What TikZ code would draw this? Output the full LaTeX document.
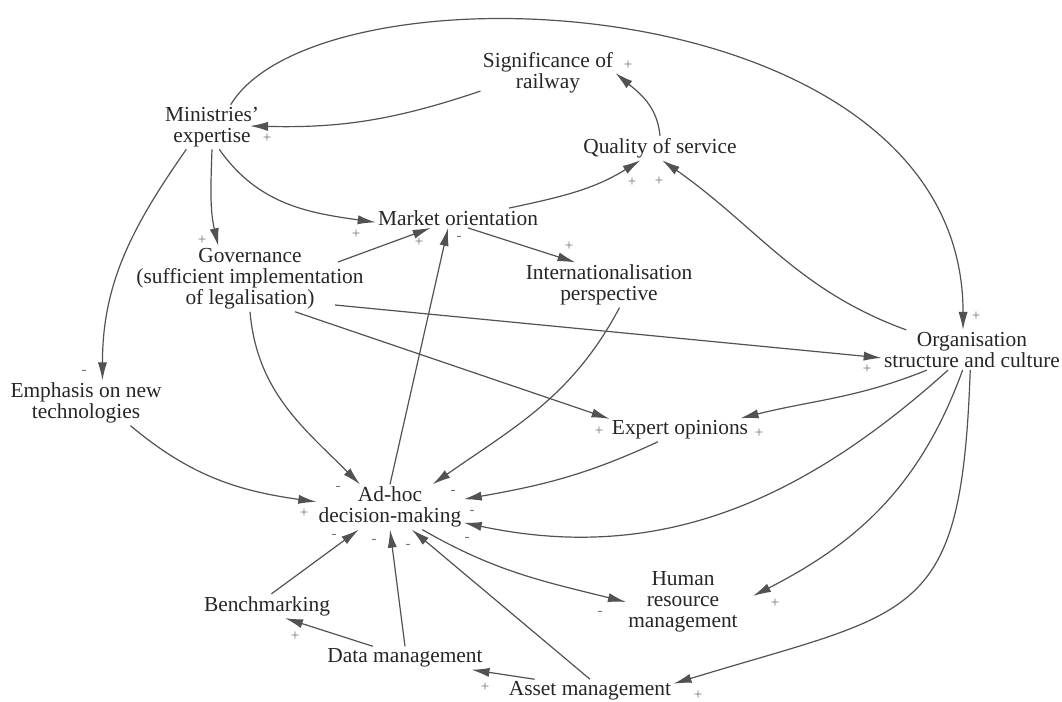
\documentclass[tikz,border=0pt]{standalone}
\usepackage{fontspec}
\setmainfont{Liberation Serif}
\usepackage{tikz}
\usetikzlibrary{arrows.meta}
\tikzset{
  var/.style={align=center,inner sep=1pt,text=black!85,font=\fontsize{10.7}{10.5}\selectfont},
  arr/.style={-{Latex[length=9pt,width=4.6pt]},draw=black!68,line width=0.6pt},
  sgn/.style={inner sep=0pt,text=black!55,font=\fontsize{7.5}{7.5}\selectfont}
}

\begin{document}
\begin{tikzpicture}[x=0.5pt,y=-0.5pt]
\useasboundingbox (0,0) rectangle (1062,702);
\node[var] (sig) at (548,73) {Significance of\\railway};
\node[var] (mini) at (212,127) {Ministries’\\expertise};
\node[var] (qual) at (660,148) {Quality of service};
\node[var] (mark) at (458,218) {Market orientation};
\node[var] (gov) at (250,279) {Governance\\(sufficient implementation\\of legalisation)};
\node[var] (intl) at (609,285) {Internationalisation\\perspective};
\node[var] (org) at (972,350) {Organisation\\structure and culture};
\node[var] (expert) at (680,430) {Expert opinions};
\node[var] (emph) at (86,403) {Emphasis on new\\technologies};
\node[var] (adhoc) at (390,507) {Ad-hoc\\decision-making};
\node[var] (hrm) at (683,602) {Human\\resource\\management};
\node[var] (bench) at (267,606) {Benchmarking};
\node[var] (data) at (405,658) {Data management};
\node[var] (asset) at (590,691) {Asset management};

\draw[arr] (mini.50) to[out=59,in=90,out distance=86pt,in distance=174pt] (org.114) node[sgn] at (976,316) {+};
\draw[arr] (sig.195) to[bend left=10] ([shift={(38,-1)}]mini.center) node[sgn] at (267,138) {+};
\draw[arr] (qual.north) to[out=95,in=-40] (sig.east) node[sgn] at (628,65) {+};
\draw[arr] (mini.south) to[out=-92,in=103] (gov.134) node[sgn] at (202,240) {+};
\draw[arr] (mini.221) to[out=-125,in=90] (emph.54) node[sgn] at (84,372) {-};
\draw[arr] (mini.-72) to[out=-55,in=172] (mark.183) node[sgn] at (356,234) {+};
\draw[arr] (mark.11) to[out=12,in=-148] (qual.212) node[sgn] at (632,182) {+};
\draw[arr] (org.163) to[out=160,in=-35] (qual.-80) node[sgn] at (659,181) {+};
\draw[arr] ([shift={(88,-17)}]gov.center) -- (mark.200) node[sgn] at (419,242) {+};
\draw[arr] (adhoc.north) -- (mark.225) node[sgn] at (459,238) {-};
\draw[arr] (mark.-45) -- (intl.146) node[sgn] at (569,246) {+};
\draw[arr] ([shift={(85,26)}]gov.center) -- (org.185) node[sgn] at (867,369) {+};
\draw[arr] (gov.-36) -- (expert.171) node[sgn] at (599,431) {+};
\draw[arr] (gov.south) to[out=-85,in=135] (adhoc.143) node[sgn] at (338,488) {-};
\draw[arr] (intl.-65) to[out=-118,in=35] (adhoc.28) node[sgn] at (453,492) {-};
\draw[arr] (expert.208) to[out=205,in=10] (adhoc.6) node[sgn] at (472,512) {-};
\draw[arr] (org.204) to[out=202,in=14] (expert.11) node[sgn] at (759,433) {+};
\draw[arr] (org.220) to[out=222,in=-12] (adhoc.-12) node[sgn] at (467,539) {-};
\draw[arr] (org.245) to[out=250,in=27] ([shift={(70,-6)}]hrm.center) node[sgn] at (775,603) {+};
\draw[arr] (org.265) to[out=-92,in=17,looseness=1.5] (asset.5) node[sgn] at (698,695) {+};
\draw[arr] (adhoc.-35) to[out=-30,in=166] (hrm.180) node[sgn] at (600,613) {-};
\draw[arr] (emph.-27) to[out=-40,in=172] (adhoc.176) node[sgn] at (304,513) {+};
\draw[arr] (bench.70) -- (adhoc.216) node[sgn] at (334,536) {-};
\draw[arr] (data.160) -- (bench.-34) node[sgn] at (295,636) {+};
\draw[arr] (data.north) -- (adhoc.south) node[sgn] at (374,541) {-};
\draw[arr] (asset.168) -- (data.-10) node[sgn] at (485,687) {+};
\draw[arr] (asset.north) -- (adhoc.-46) node[sgn] at (408,546) {-};
\end{tikzpicture}
\end{document}
